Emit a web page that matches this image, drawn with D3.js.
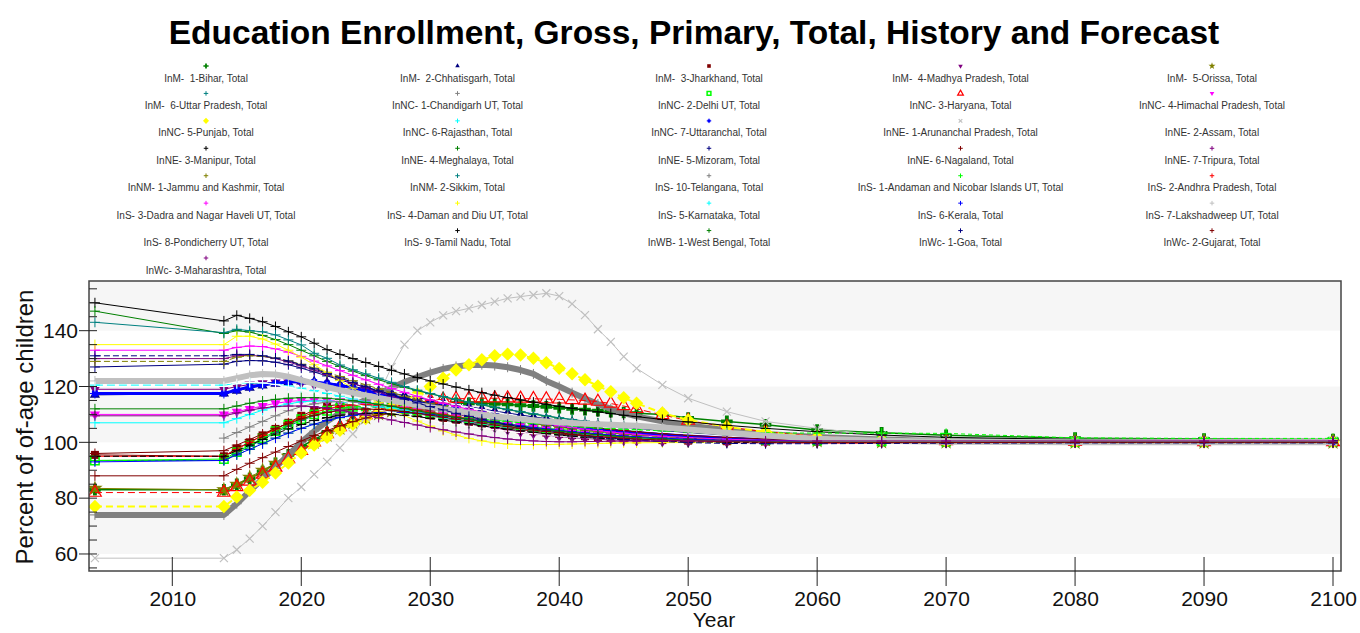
<!DOCTYPE html>
<html><head><meta charset="utf-8">
<script src="https://cdn.jsdelivr.net/npm/d3@7"></script>
<style>
body{margin:0;background:#fff}
svg{display:block}
text{font-family:Arial,"Liberation Sans",sans-serif}
.leg{white-space:pre}
</style>
</head><body>
<svg id="c" width="1360" height="633"></svg>
<script>
// ---------------- DATA ----------------
const years = [2004, 2014, 2015, 2016, 2017, 2018, 2019, 2020, 2021, 2022,
  2023, 2024, 2025, 2026, 2027, 2028, 2029, 2030, 2031, 2032,
  2033, 2034, 2035, 2036, 2037, 2038, 2039, 2040, 2041, 2042,
  2043, 2044, 2045, 2046, 2048, 2050, 2053, 2056, 2060, 2065,
  2070, 2080, 2090, 2100];

const seriesNames = [
 "InM-  1-Bihar, Total","InM-  2-Chhatisgarh, Total","InM-  3-Jharkhand, Total","InM-  4-Madhya Pradesh, Total","InM-  5-Orissa, Total",
 "InM-  6-Uttar Pradesh, Total","InNC- 1-Chandigarh UT, Total","InNC- 2-Delhi UT, Total","InNC- 3-Haryana, Total","InNC- 4-Himachal Pradesh, Total",
 "InNC- 5-Punjab, Total","InNC- 6-Rajasthan, Total","InNC- 7-Uttaranchal, Total","InNE- 1-Arunanchal Pradesh, Total","InNE- 2-Assam, Total",
 "InNE- 3-Manipur, Total","InNE- 4-Meghalaya, Total","InNE- 5-Mizoram, Total","InNE- 6-Nagaland, Total","InNE- 7-Tripura, Total",
 "InNM- 1-Jammu and Kashmir, Total","InNM- 2-Sikkim, Total","InS- 10-Telangana, Total","InS- 1-Andaman and Nicobar Islands UT, Total","InS- 2-Andhra Pradesh, Total",
 "InS- 3-Dadra and Nagar Haveli UT, Total","InS- 4-Daman and Diu UT, Total","InS- 5-Karnataka, Total","InS- 6-Kerala, Total","InS- 7-Lakshadweep UT, Total",
 "InS- 8-Pondicherry UT, Total","InS- 9-Tamil Nadu, Total","InWB- 1-West Bengal, Total","InWc- 1-Goa, Total","InWc- 2-Gujarat, Total",
 "InWc- 3-Maharashtra, Total"];

const bihar = [83, 83, 85, 87, 89.5, 92.5, 95.5, 98.5, 101, 103.5,
 105.5, 107.5, 109, 110.5, 111.5, 112.5, 113, 113.5, 113.8, 114,
 114, 114, 113.8, 113.6, 113.3, 113, 112.7, 112.4, 112, 111.7,
 111.3, 111, 110.7, 110.4, 110, 108.7, 107.5, 106.3, 104.4, 103.4,
 102.5, 101.5, 101.2, 101];
const chhatisgarh = [117, 117.5, 118.5, 119.5, 120.3, 121, 121.5, 121.8, 121.7, 121.3,
 120.7, 120, 119.2, 118.4, 117.6, 116.8, 116, 115.2, 114.4, 113.6,
 112.8, 112, 111.2, 110.5, 109.8, 109.1, 108.5, 107.9, 107.3, 106.8,
 106.3, 105.8, 105.4, 105, 104.2, 103.5, 102.6, 101.9, 101.2, 100.7,
 100.4, 100.2, 100.1, 100.1];
const jharkhand = [95.5, 95, 97.8, 100, 102.5, 104.8, 107, 109.5, 111.5, 113,
 113.6, 113.7, 113.4, 112.8, 112, 111.2, 110.3, 109.5, 108.7, 107.9,
 107.2, 106.5, 105.8, 105.2, 104.6, 104, 103.5, 103, 102.6, 102.2,
 101.9, 101.6, 101.3, 101.1, 100.8, 100.6, 100.4, 100.3, 100.2, 100.1,
 100.1, 100, 100, 100];
const madhyaPradesh = [119, 119, 120, 120.7, 121.2, 121.5, 121.5, 121.2, 120.6, 119.8,
 118.8, 117.7, 116.5, 115.3, 114, 112.7, 111.4, 110.2, 109, 107.9,
 106.9, 106, 105.2, 104.4, 103.7, 103.1, 102.6, 102.1, 101.7, 101.4,
 101.1, 100.9, 100.7, 100.5, 100.3, 100.1, 100, 100, 100, 100,
 100, 100, 100, 100];
const orissa = [83.5, 83, 85, 87.5, 90, 92.5, 95, 97.5, 100, 102.5,
 105, 107, 108.8, 110.2, 111.2, 111.8, 112, 111.9, 111.6, 111.1,
 110.5, 109.8, 109.1, 108.4, 107.7, 107, 106.4, 105.8, 105.2, 104.7,
 104.2, 103.8, 103.4, 103, 102.4, 101.9, 101.3, 100.9, 100.5, 100.2,
 100.1, 100, 100, 100];
const uttarPradesh = [93.5, 93.5, 96, 98.5, 101, 103.5, 105.8, 107.8, 109.5, 110.8,
 111.7, 112.2, 112.4, 112.3, 112, 111.5, 110.9, 110.2, 109.5, 108.8,
 108.1, 107.4, 106.7, 106.1, 105.5, 104.9, 104.4, 103.9, 103.4, 103,
 102.6, 102.3, 102, 101.7, 101.2, 100.9, 100.6, 100.4, 100.2, 100.1,
 100.1, 100, 100, 100];
const chandigarh = [74, 74, 78, 82.5, 87, 91, 95.5, 100, 104, 107.5,
 110.5, 113, 115.3, 117.5, 119.6, 121.6, 123.4, 125, 126.3, 127.2,
 127.7, 127.8, 127.5, 126.9, 125.9, 124.5, 122, 120, 117.8, 115.7,
 113.7, 112, 110.5, 109.3, 107.5, 106, 104.3, 103, 101.9, 101,
 100.6, 100.3, 100.2, 100.2];
const delhi = [93.5, 94, 96.5, 99, 101.5, 104, 106.3, 108.3, 110, 111.3,
 112.2, 112.7, 112.9, 112.8, 112.5, 112, 111.4, 110.7, 110, 109.3,
 108.6, 107.9, 107.3, 106.7, 106.1, 105.6, 105.1, 104.7, 104.3, 103.9,
 103.6, 103.3, 103, 102.7, 102.2, 101.8, 101.3, 100.9, 100.6, 100.4,
 100.3, 100.2, 100.2, 100.2];
const haryana = [82, 82, 84, 86, 88.5, 91, 94, 97, 100, 103,
 105.5, 107.8, 109.8, 111.5, 112.8, 113.8, 114.6, 115.1, 115.4, 115.6,
 115.7, 115.8, 115.8, 115.8, 115.7, 115.6, 115.5, 115.4, 115.2, 115,
 114.6, 113.9, 113, 112, 109.8, 107.8, 105.5, 103.8, 102.2, 101,
 100.5, 100.2, 100.1, 100.1];
const himachal = [110, 110, 111, 112, 113, 114, 114.6, 115, 115.1, 115,
 114.7, 114.3, 113.8, 113.2, 112.6, 112, 111.3, 110.6, 109.9, 109.2,
 108.5, 107.8, 107.2, 106.6, 106, 105.4, 104.9, 104.4, 103.9, 103.5,
 103.1, 102.7, 102.4, 102.1, 101.6, 101.2, 100.8, 100.5, 100.3, 100.1,
 100.1, 100, 100, 100];
const punjab = [77, 77, 80.4, 82.8, 85.7, 89, 92.6, 96.2, 99, 101.8,
 104.3, 106.5, 108.5, 110.5, 112.5, 114.8, 117.3, 120, 123, 125.9,
 127.8, 129.6, 131, 131.6, 131.3, 130.1, 128.5, 126.5, 124.6, 122.4,
 120.2, 118.1, 116, 114, 110.5, 108, 105.6, 103.7, 101.8, 100.8,
 100.4, 100.2, 100.1, 100.1];
const rajasthan = [107, 107, 108.5, 110, 111.5, 112.8, 113.8, 114.5, 114.8, 114.8,
 114.5, 114, 113.4, 112.7, 112, 111.2, 110.4, 109.6, 108.8, 108.1,
 107.4, 106.7, 106.1, 105.5, 105, 104.5, 104, 103.6, 103.2, 102.8,
 102.5, 102.2, 101.9, 101.7, 101.3, 101, 100.7, 100.5, 100.3, 100.2,
 100.1, 100.1, 100.1, 100.1];
const uttaranchal = [117.5, 117.5, 118.8, 119.8, 120.6, 121.2, 121.6, 121.8, 121.6, 121.1,
 120.4, 119.5, 118.5, 117.5, 116.5, 115.5, 114.5, 113.5, 112.6, 111.7,
 110.9, 110.1, 109.3, 108.6, 107.9, 107.3, 106.7, 106.1, 105.6, 105.1,
 104.7, 104.3, 103.9, 103.5, 102.9, 102.4, 101.8, 101.3, 100.8, 100.4,
 100.2, 100.1, 100, 100];
const arunachal = [58.5, 58.5, 61.5, 65.5, 70, 75, 80, 84, 88.5, 93,
 98, 103, 109, 117, 127, 135, 140, 143, 145.5, 147,
 148, 149.2, 150.4, 151.6, 152.2, 152.8, 153.4, 152.4, 149.6, 145.6,
 140.5, 136, 130.7, 126.5, 120.6, 115.8, 111, 107.5, 105, 102.5,
 101.2, 100.5, 100.3, 100.3];
const assam = [131, 131, 132, 132.3, 132.2, 131.7, 130.8, 129.6, 128.2, 126.7,
 125.2, 123.7, 122.2, 120.8, 119.4, 118.1, 116.9, 115.7, 114.6, 113.6,
 112.6, 111.7, 110.8, 110, 109.2, 108.5, 107.8, 107.2, 106.6, 106.1,
 105.6, 105.1, 104.7, 104.3, 103.6, 103, 102.2, 101.6, 101, 100.5,
 100.3, 100.1, 100.1, 100.1];
const manipur = [150, 143.5, 145.5, 144.4, 143.2, 141.5, 139.6, 137.8, 135.5, 133.2,
 131.5, 130, 128.6, 127.2, 125.8, 124.5, 123.2, 122, 120.9, 119.8,
 118.8, 117.8, 116.9, 116, 115.2, 114.4, 113.6, 112.9, 112.2, 111.5,
 110.9, 110.3, 109.7, 109.2, 108.2, 107.3, 106.1, 105, 103.8, 102.6,
 101.8, 101, 100.7, 100.6];
const meghalaya = [147, 139, 140, 139.5, 138.3, 136.8, 135, 133, 131, 129,
 127.2, 125.5, 123.9, 122.4, 121, 119.7, 118.5, 117.4, 116.3, 115.3,
 114.3, 113.4, 112.5, 111.7, 110.9, 110.1, 109.4, 108.7, 108.1, 107.5,
 106.9, 106.4, 105.9, 105.4, 104.5, 103.7, 102.7, 101.9, 101.1, 100.6,
 100.3, 100.2, 100.1, 100.1];
const mizoram = [127, 128, 129, 129.3, 129.2, 128.7, 127.8, 126.6, 125.2, 123.8,
 122.4, 121, 119.7, 118.4, 117.2, 116, 114.9, 113.8, 112.8, 111.8,
 110.9, 110, 109.2, 108.4, 107.7, 107, 106.3, 105.7, 105.1, 104.6,
 104.1, 103.6, 103.2, 102.8, 102.1, 101.5, 100.9, 100.5, 100.1, 99.9,
 99.8, 99.8, 99.8, 99.8];
const nagaland = [88, 88, 90.3, 92.5, 94.5, 96.5, 98.5, 100.5, 102.4, 104.2,
 105.9, 107.4, 108.7, 109.8, 110.6, 111.2, 111.5, 111.6, 111.5, 111.2,
 110.8, 110.3, 109.7, 109.1, 108.5, 107.9, 107.3, 106.7, 106.1, 105.6,
 105.1, 104.6, 104.2, 103.8, 103.1, 102.5, 101.8, 101.2, 100.7, 100.3,
 100.1, 100, 100, 100];
const tripura = [130, 130, 131, 131.2, 130.8, 130, 128.8, 127.4, 125.9, 124.3,
 122.7, 121.1, 119.5, 118, 116.5, 115.1, 113.8, 112.5, 111.3, 110.2,
 109.1, 108.1, 107.2, 106.3, 105.5, 104.8, 104.1, 103.5, 103, 102.5,
 102, 101.6, 101.3, 101, 100.5, 100.2, 99.9, 99.8, 99.8, 99.9,
 100, 100, 100, 100];
const jammuKashmir = [129, 129, 130.5, 131, 130.8, 130.2, 129.2, 128, 126.6, 125.1,
 123.6, 122.1, 120.6, 119.2, 117.8, 116.5, 115.2, 114, 112.9, 111.8,
 110.8, 109.9, 109, 108.2, 107.4, 106.7, 106, 105.4, 104.8, 104.3,
 103.8, 103.4, 103, 102.6, 102, 101.5, 100.9, 100.5, 100.2, 100,
 100, 100, 100, 100];
const sikkim = [143, 139.3, 140.5, 140, 139.6, 138.5, 136.7, 134.9, 131.9, 130.1,
 127.7, 126, 124.5, 123, 121.5, 120, 118.7, 117.5, 116.4, 115.4,
 114.4, 113.5, 112.6, 111.8, 111, 110.2, 109.5, 108.8, 108.2, 107.6,
 107, 106.5, 106, 105.5, 104.6, 103.8, 102.8, 102, 101.3, 100.8,
 100.5, 100.3, 100.2, 100.2];
const telangana = [null, 101.5, 103.5, 105.5, 107.5, 109.5, 111.3, 112.8, 113.8, 114.4,
 114.6, 114.5, 114.2, 113.7, 113.1, 112.4, 111.7, 110.9, 110.1, 109.3,
 108.5, 107.8, 107.1, 106.4, 105.8, 105.2, 104.6, 104.1, 103.6, 103.2,
 102.8, 102.4, 102.1, 101.8, 101.3, 100.9, 100.5, 100.3, 100.1, 100,
 100, 100, 100, 100];
const andaman = [93.5, 93.5, 95.5, 97.5, 99.5, 101.5, 103.3, 105, 106.5, 107.8,
 108.8, 109.6, 110.2, 110.5, 110.6, 110.5, 110.3, 110, 109.6, 109.2,
 108.8, 108.3, 107.9, 107.5, 107.1, 106.7, 106.4, 106, 105.7, 105.4,
 105.1, 104.9, 104.7, 104.5, 104.1, 103.8, 103.5, 103.4, 103.3, 103.3,
 103.2, 101.6, 101.4, 101.4];
const andhra = [95, 95, 97.5, 100, 102.5, 104.8, 107, 109, 110.7, 112,
 112.9, 113.4, 113.5, 113.3, 112.9, 112.3, 111.6, 110.8, 110, 109.2,
 108.4, 107.6, 106.9, 106.2, 105.6, 105, 104.4, 103.9, 103.4, 103,
 102.6, 102.2, 101.9, 101.6, 101.1, 100.7, 100.3, 100, 99.8, 99.7,
 99.7, 99.8, 99.8, 99.8];
const dadra = [133, 133, 134, 134.5, 134.3, 133.5, 132.3, 130.8, 129.1, 127.4,
 125.7, 124, 122.4, 120.8, 119.3, 117.9, 116.5, 115.2, 114, 112.9,
 111.8, 110.8, 109.8, 108.9, 108.1, 107.3, 106.6, 105.9, 105.3, 104.7,
 104.2, 103.7, 103.3, 102.9, 102.2, 101.7, 101.1, 100.7, 100.4, 100.3,
 100.2, 100.2, 100.2, 100.2];
const damanDiu = [135, 135, 138, 138, 137, 135.2, 133, 130.5, 127.8, 125,
 122.2, 119.4, 116.7, 114.2, 111.8, 109.6, 107.6, 105.8, 104.1, 102.6,
 101.4, 100.5, 99.8, 99.4, 99.2, 99.2, 99.2, 99.3, 99.4, 99.5,
 99.6, 99.7, 99.8, 99.8, 99.9, 99.9, 100, 100, 100, 100,
 100, 100, 100, 100];
const karnataka = [120.5, 120.5, 121, 121.3, 121.2, 120.8, 120.2, 119.4, 118.5, 117.5,
 116.5, 115.5, 114.5, 113.5, 112.5, 111.6, 110.7, 109.8, 109, 108.2,
 107.5, 106.8, 106.2, 105.6, 105, 104.5, 104, 103.5, 103.1, 102.7,
 102.4, 102.1, 101.8, 101.5, 101.1, 100.8, 100.4, 100.2, 100, 99.9,
 99.9, 99.9, 99.9, 99.9];
const kerala = [93, 93.5, 95.5, 97.5, 99.5, 101.5, 103.3, 105, 106.5, 107.8,
 108.9, 109.7, 110.3, 110.7, 110.8, 110.7, 110.4, 110, 109.5, 108.9,
 108.3, 107.7, 107.1, 106.5, 105.9, 105.3, 104.8, 104.3, 103.8, 103.4,
 103, 102.6, 102.3, 102, 101.5, 101.1, 100.7, 100.5, 100.4, 100.4,
 100.4, 100.4, 100.4, 100.4];
const lakshadweep = [122, 122, 123, 124, 124.5, 124.3, 123.5, 122.3, 121, 119.8,
 118.7, 117.7, 116.8, 115.9, 115, 114.2, 113.4, 112.6, 111.9, 111.2,
 110.5, 109.9, 109.3, 108.8, 108.3, 107.9, 107.5, 107.2, 106.9, 106.7,
 106.5, 106.3, 106.1, 105.9, 105.3, 104.6, 103.4, 102.4, 101.3, 100.6,
 100.2, 100, 100, 100];
const pondicherry = [120, 120, 121, 121.5, 121.3, 120.7, 119.8, 118.7, 117.5, 116.3,
 115.1, 113.9, 112.8, 111.7, 110.7, 109.7, 108.8, 107.9, 107.1, 106.4,
 105.7, 105.1, 104.5, 104, 103.5, 103.1, 102.7, 102.3, 102, 101.7,
 101.4, 101.2, 101, 100.8, 100.5, 100.3, 100.1, 100, 100, 100,
 100, 100, 100, 100];
const tamilNadu = [95, 95, 97, 99, 101, 103, 104.8, 106.4, 107.8, 108.9,
 109.7, 110.2, 110.4, 110.4, 110.1, 109.7, 109.2, 108.6, 108, 107.3,
 106.6, 105.9, 105.3, 104.7, 104.1, 103.6, 103.1, 102.6, 102.2, 101.8,
 101.5, 101.2, 100.9, 100.7, 100.4, 100.2, 100, 99.9, 99.9, 99.9,
 99.9, 99.9, 99.9, 99.9];
const westBengal = [112, 112, 113, 114, 114.8, 115.4, 115.8, 116, 116, 115.8,
 115.4, 114.9, 114.3, 113.6, 112.9, 112.1, 111.3, 110.5, 109.7, 108.9,
 108.2, 107.5, 106.8, 106.2, 105.6, 105, 104.5, 104, 103.5, 103.1,
 102.7, 102.3, 102, 101.7, 101.2, 100.8, 100.4, 100.2, 100.1, 100.1,
 100.1, 100.1, 100.1, 100.1];
const goa = [131, 131, 131.5, 131.5, 131, 130.2, 129.1, 127.8, 126.3, 124.7,
 123.1, 121.5, 119.9, 118.4, 116.9, 115.5, 114.1, 112.8, 111.6, 110.4,
 109.3, 108.3, 107.3, 106.4, 105.6, 104.8, 104.1, 103.5, 102.9, 102.4,
 101.9, 101.5, 101.1, 100.8, 100.3, 99.9, 99.6, 99.5, 99.5, 99.6,
 99.7, 99.8, 99.8, 99.8];
const gujarat = [96, 97, 99, 101, 103, 105, 106.8, 108.4, 109.7, 110.7,
 111.4, 111.8, 111.9, 111.8, 111.5, 111, 110.4, 109.7, 109, 108.3,
 107.6, 106.9, 106.2, 105.6, 105, 104.4, 103.9, 103.4, 102.9, 102.5,
 102.1, 101.8, 101.5, 101.2, 100.8, 100.5, 100.2, 100, 99.9, 99.9,
 99.9, 100, 100, 100];
const maharashtra = [109.5, 109.5, 110.5, 111.5, 112.3, 112.8, 113, 113, 112.7, 112.2,
 111.5, 110.7, 109.8, 108.9, 108, 107.1, 106.2, 105.3, 104.5, 103.7,
 103, 102.3, 101.7, 101.2, 100.8, 100.5, 100.3, 100.2, 100.2, 100.3,
 100.3, 100.4, 100.4, 100.5, 100.5, 100.5, 100.5, 100.5, 100.5, 100.5,
 100.5, 100.5, 100.5, 100.5];

const seriesValues = [bihar, chhatisgarh, jharkhand, madhyaPradesh, orissa, uttarPradesh,
  chandigarh, delhi, haryana, himachal, punjab, rajasthan, uttaranchal, arunachal, assam,
  manipur, meghalaya, mizoram, nagaland, tripura, jammuKashmir, sikkim, telangana, andaman,
  andhra, dadra, damanDiu, karnataka, kerala, lakshadweep, pondicherry, tamilNadu,
  westBengal, goa, gujarat, maharashtra];

const xTickValues = [2010, 2020, 2030, 2040, 2050, 2060, 2070, 2080, 2090, 2100];
const yTickValues = [60, 80, 100, 120, 140];
const bandRanges = [[140, 160], [100, 120], [60, 80]];

// ---------------- STYLES ----------------
const palette = ['#008000','#000080','#800000','#800080','#808000','#008080','#808080','#00ff00',
                 '#ff0000','#ff00ff','#ffff00','#00ffff','#0000ff','#c0c0c0','#ffffff','#000000'];
const markerTypes = ['club','triUp','sqFill','triDown','star','plus','plus','sqOpen','triOpen','triDown',
  'diamond','plus','sqPlus','x','plus','plus','plus','plus','plus','plus',
  'plus','plus','plus','plus','plus','plus','plus','plus','plus','plus',
  'plus','plus','plus','plus','plus','plus'];
const lineWidths = {6:6, 29:6, 12:3, 10:2, 0:1.5};
const dashes = {8:'7,4', 10:'7,4', 20:'6,3', 23:'4,3', 27:'8,4', 31:'6,3', 33:'6,3'};

// ---------------- LAYOUT ----------------
const plot = {left: 89, right: 1341, top: 281, bottom: 571};
const svg = d3.select('#c');

const x = d3.scaleLinear().domain([2003.54, 2100.62]).range([plot.left, plot.right]);
const y = d3.scaleLinear().domain([53.9, 157.8]).range([plot.bottom, plot.top]);

// title
svg.append('text').attr('x', 694).attr('y', 44).attr('text-anchor', 'middle')
  .attr('font-size', 33.5).attr('font-weight', 'bold').attr('fill', '#000')
  .text('Education Enrollment, Gross, Primary, Total, History and Forecast');

// background bands
svg.append('rect').attr('x', plot.left).attr('y', plot.top)
  .attr('width', plot.right - plot.left).attr('height', plot.bottom - plot.top).attr('fill', '#fff');
svg.append('defs').append('clipPath').attr('id', 'clip').append('rect')
  .attr('x', plot.left).attr('y', plot.top).attr('width', plot.right - plot.left).attr('height', plot.bottom - plot.top);
const gBands = svg.append('g').attr('clip-path', 'url(#clip)');
bandRanges.forEach(([a, b]) => {
  gBands.append('rect').attr('x', plot.left).attr('width', plot.right - plot.left)
    .attr('y', y(b)).attr('height', y(a) - y(b)).attr('fill', '#f6f6f6');
});

// markers
function markerNode(g, type, color, cx, cy, s) {
  const t = `translate(${cx},${cy})`;
  const sym = (shape, size) => d3.symbol(shape, size * s * s)();
  if (type === 'plus') {
    g.append('path').attr('transform', t).attr('d', `M${-5*s},0H${5*s}M0,${-5*s}V${5*s}`)
      .attr('stroke', color).attr('stroke-width', 1).attr('fill', 'none');
  } else if (type === 'x') {
    g.append('path').attr('transform', t).attr('d', `M${-4*s},${-4*s}L${4*s},${4*s}M${-4*s},${4*s}L${4*s},${-4*s}`)
      .attr('stroke', color).attr('stroke-width', 1.2).attr('fill', 'none');
  } else if (type === 'club') {
    g.append('path').attr('transform', t).attr('d', sym(d3.symbolCross, 75)).attr('fill', color);
  } else if (type === 'triUp') {
    g.append('path').attr('transform', t).attr('d', sym(d3.symbolTriangle, 45)).attr('fill', color);
  } else if (type === 'triDown') {
    g.append('path').attr('transform', t + ' rotate(180)').attr('d', sym(d3.symbolTriangle, 45)).attr('fill', color);
  } else if (type === 'sqFill') {
    g.append('path').attr('transform', t).attr('d', sym(d3.symbolSquare, 64)).attr('fill', color);
  } else if (type === 'sqPlus') {
    g.append('path').attr('transform', t).attr('d', sym(d3.symbolSquare, 36)).attr('fill', color);
    g.append('path').attr('transform', t).attr('d', `M${-5*s},0H${5*s}M0,${-5*s}V${5*s}`)
      .attr('stroke', color).attr('stroke-width', 1).attr('fill', 'none');
  } else if (type === 'sqOpen') {
    g.append('path').attr('transform', t).attr('d', sym(d3.symbolSquare, 70))
      .attr('fill', 'none').attr('stroke', color).attr('stroke-width', 1.5);
  } else if (type === 'triOpen') {
    g.append('path').attr('transform', t).attr('d', sym(d3.symbolTriangle, 70))
      .attr('fill', 'none').attr('stroke', color).attr('stroke-width', 1.2);
  } else if (type === 'star') {
    g.append('path').attr('transform', t).attr('d', sym(d3.symbolStar, 75)).attr('fill', color);
  } else if (type === 'diamond') {
    g.append('path').attr('transform', t + ' rotate(45)').attr('d', sym(d3.symbolSquare, 90)).attr('fill', color);
  }
}

// series
const gSeries = svg.append('g').attr('clip-path', 'url(#clip)');
const line = d3.line().defined(d => d.v != null).x(d => x(d.yr)).y(d => y(d.v));
seriesValues.forEach((vals, i) => {
  const color = palette[i % 16];
  const pts = years.map((yr, k) => ({yr, v: vals[k]}));
  const g = gSeries.append('g');
  g.append('path').attr('d', line(pts)).attr('fill', 'none').attr('stroke', color)
    .attr('stroke-width', lineWidths[i] || 1)
    .attr('stroke-dasharray', dashes[i] || null)
    .attr('stroke-linejoin', 'round');
  pts.filter(d => d.v != null).forEach(d => markerNode(g, markerTypes[i], color, x(d.yr), y(d.v), 1));
});

// frame
svg.append('rect').attr('x', plot.left).attr('y', plot.top)
  .attr('width', plot.right - plot.left).attr('height', plot.bottom - plot.top)
  .attr('fill', 'none').attr('stroke', '#444').attr('stroke-width', 1.5);

// y axis ticks
const gy = svg.append('g');
y.ticks(20).forEach(v => {
  const major = yTickValues.includes(v);
  gy.append('line').attr('x1', major ? plot.left - 10 : plot.left).attr('x2', plot.left + 8)
    .attr('y1', y(v)).attr('y2', y(v)).attr('stroke', '#222').attr('stroke-width', 1);
});
const yAxis = d3.axisLeft(y).tickValues(yTickValues).tickSize(0).tickPadding(11);
svg.append('g').attr('transform', `translate(${plot.left},0)`).call(yAxis)
  .call(g => g.select('.domain').remove())
  .call(g => g.selectAll('text').attr('font-size', 21).attr('fill', '#111').attr('font-family', 'Arial,"Liberation Sans",sans-serif'));

// x axis ticks
xTickValues.forEach(v => {
  svg.append('line').attr('x1', x(v)).attr('x2', x(v)).attr('y1', plot.bottom - 14).attr('y2', plot.bottom + 15)
    .attr('stroke', '#222').attr('stroke-width', 1);
});
const xAxis = d3.axisBottom(x).tickValues(xTickValues).tickFormat(d3.format('d')).tickSize(0).tickPadding(20);
svg.append('g').attr('transform', `translate(0,${plot.bottom})`).call(xAxis)
  .call(g => g.select('.domain').remove())
  .call(g => g.selectAll('text').attr('font-size', 21).attr('fill', '#111').attr('font-family', 'Arial,"Liberation Sans",sans-serif'));

// axis titles
svg.append('text').attr('x', 714).attr('y', 627).attr('text-anchor', 'middle')
  .attr('font-size', 21).attr('fill', '#111').text('Year');
svg.append('text').attr('transform', 'translate(33,427) rotate(-90)').attr('text-anchor', 'middle')
  .attr('font-size', 24).attr('fill', '#111').text('Percent of of-age children');

// legend
const legX = d3.scaleLinear().domain([0, 4]).range([206, 1212]);
const legY = d3.scaleLinear().domain([0, 7]).range([78, 270]);
const gLeg = svg.append('g');
seriesNames.forEach((name, i) => {
  const col = i % 5, row = Math.floor(i / 5);
  const cx = legX(col), cy = legY(row);
  markerNode(gLeg, markerTypes[i], palette[i % 16], cx, cy - 12, 0.45);
  gLeg.append('text').attr('class', 'leg').attr('x', cx).attr('y', cy + 3.5)
    .attr('text-anchor', 'middle').attr('font-size', 10).attr('fill', '#333').text(name);
});
</script>
</body></html>
